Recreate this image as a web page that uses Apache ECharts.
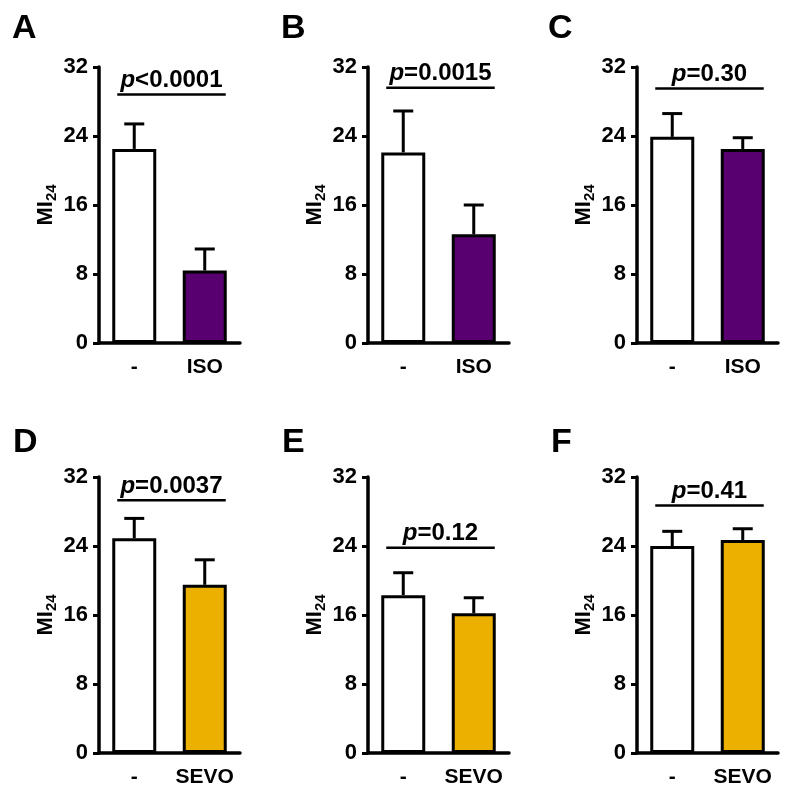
<!DOCTYPE html>
<html><head><meta charset="utf-8">
<script src="https://cdn.jsdelivr.net/npm/echarts@6/dist/echarts.min.js"></script>
<style>html,body{margin:0;padding:0;background:#fff}#c{width:800px;height:801px}</style>
</head><body><div id="c"></div>
<script>
// ---- data ----
const panelLetters = ['A', 'B', 'C', 'D', 'E', 'F'];
const categoriesISO = ['-', 'ISO'];
const categoriesSEVO = ['-', 'SEVO'];
const yTicks = [0, 8, 16, 24, 32];
const yAxisTitle = 'MI';
const yAxisSub = '24';

const meansA = [22.5, 8.4];  const sdA = [2.9, 2.5];  const pLineA = 28.8; const pTextA = '<0.0001';
const meansB = [22.1, 12.6]; const sdB = [4.8, 3.4];  const pLineB = 29.6; const pTextB = '=0.0015';
const meansC = [23.9, 22.5]; const sdC = [2.7, 1.3];  const pLineC = 29.5; const pTextC = '=0.30';
const meansD = [24.9, 19.5]; const sdD = [2.3, 2.9];  const pLineD = 29.3; const pTextD = '=0.0037';
const meansE = [18.3, 16.2]; const sdE = [2.6, 1.8];  const pLineE = 23.8; const pTextE = '=0.12';
const meansF = [24.0, 24.7]; const sdF = [1.7, 1.3];  const pLineF = 28.7; const pTextF = '=0.41';

// ---- layout / style ----
const FONT = "'Liberation Sans', Arial, sans-serif";
const PURPLE = '#58006f';
const YELLOW = '#ebb000';
const panels = [
  {letter: panelLetters[0], cats: categoriesISO,  means: meansA, sd: sdA, pY: pLineA, pT: pTextA, color: PURPLE, left: 99,  top: 67},
  {letter: panelLetters[1], cats: categoriesISO,  means: meansB, sd: sdB, pY: pLineB, pT: pTextB, color: PURPLE, left: 368, top: 67},
  {letter: panelLetters[2], cats: categoriesISO,  means: meansC, sd: sdC, pY: pLineC, pT: pTextC, color: PURPLE, left: 637, top: 67},
  {letter: panelLetters[3], cats: categoriesSEVO, means: meansD, sd: sdD, pY: pLineD, pT: pTextD, color: YELLOW, left: 99,  top: 477},
  {letter: panelLetters[4], cats: categoriesSEVO, means: meansE, sd: sdE, pY: pLineE, pT: pTextE, color: YELLOW, left: 368, top: 477},
  {letter: panelLetters[5], cats: categoriesSEVO, means: meansF, sd: sdF, pY: pLineF, pT: pTextF, color: YELLOW, left: 637, top: 477}
];
const letterPos = [[12, 12], [281, 12], [548, 12], [13, 426], [282, 426], [551, 426]];

const grid = [], xAxis = [], yAxis = [], series = [], graphic = [];
panels.forEach((p, i) => {
  grid.push({left: p.left, top: p.top, width: 141, height: 276, containLabel: false});
  xAxis.push({
    type: 'category', gridIndex: i, data: p.cats,
    axisLine: {lineStyle: {color: '#000', width: 3.5}},
    axisTick: {alignWithLabel: true, length: 8, lineStyle: {color: '#000', width: 3}},
    axisLabel: {color: '#000', fontFamily: FONT, fontWeight: 'bold', fontSize: 21, margin: 14, interval: 0, hideOverlap: false}
  });
  yAxis.push({
    type: 'value', gridIndex: i, min: yTicks[0], max: yTicks[yTicks.length - 1], interval: yTicks[1] - yTicks[0],
    splitLine: {show: false},
    axisLine: {show: true, lineStyle: {color: '#000', width: 3.5}},
    axisTick: {show: true, length: 6, lineStyle: {color: '#000', width: 3}},
    axisLabel: {color: '#000', fontFamily: FONT, fontWeight: 'bold', fontSize: 22, margin: 11},
    name: '{a|' + yAxisTitle + '}{b|' + yAxisSub + '}',
    nameLocation: 'middle', nameGap: 40, nameRotate: 90,
    nameTextStyle: {
      rich: {
        a: {fontFamily: FONT, fontWeight: 'bold', fontSize: 22, color: '#000'},
        b: {fontFamily: FONT, fontWeight: 'bold', fontSize: 15, color: '#000', padding: [11, 0, 0, 0]}
      }
    }
  });
  series.push({
    type: 'bar', xAxisIndex: i, yAxisIndex: i, barWidth: 44,
    data: p.means.map((v, k) => ({value: v, itemStyle: {color: k === 0 ? '#fff' : p.color, borderColor: '#000', borderWidth: 3}})),
    silent: true
  });
  series.push({
    type: 'custom', xAxisIndex: i, yAxisIndex: i, silent: true, z: 3,
    data: p.means.map((v, k) => [k, v, p.sd[k]]),
    renderItem: function (params, api) {
      const x = api.value(0), m = api.value(1), s = api.value(2);
      const p0 = api.coord([x, m]), p1 = api.coord([x, m + s]);
      return {type: 'group', children: [
        {type: 'line', shape: {x1: p0[0], y1: p0[1], x2: p1[0], y2: p1[1]}, style: {stroke: '#000', lineWidth: 3}},
        {type: 'line', shape: {x1: p1[0] - 10, y1: p1[1], x2: p1[0] + 10, y2: p1[1]}, style: {stroke: '#000', lineWidth: 3}}
      ]};
    }
  });
  series.push({
    type: 'custom', xAxisIndex: i, yAxisIndex: i, silent: true, z: 3,
    data: [[0, p.pY]],
    renderItem: (function (txt) { return function (params, api) {
      const y = api.value(1);
      const a = api.coord([0, y]), b = api.coord([1, y]);
      const x1 = a[0] - 17, x2 = b[0] + 21;
      return {type: 'group', children: [
        {type: 'line', shape: {x1: x1, y1: a[1], x2: x2, y2: a[1]}, style: {stroke: '#000', lineWidth: 2.5}},
        {type: 'text', x: (x1 + x2) / 2, y: a[1] - 2, style: {
          text: '{i|p}{n|' + txt + '}', align: 'center', verticalAlign: 'bottom',
          rich: {
            i: {fontFamily: FONT, fontStyle: 'italic', fontWeight: 'bold', fontSize: 24, fill: '#000'},
            n: {fontFamily: FONT, fontWeight: 'bold', fontSize: 24, fill: '#000'}
          }
        }}
      ]};
    }; })(p.pT)
  });
  graphic.push({type: 'text', x: letterPos[i][0], y: letterPos[i][1],
    style: {text: p.letter, fill: '#000', font: 'bold 34px ' + FONT, textAlign: 'left', textVerticalAlign: 'top'}});
});

const chart = echarts.init(document.getElementById('c'), null, {renderer: 'canvas'});
chart.setOption({backgroundColor: '#fff', animation: false, grid, xAxis, yAxis, series, graphic});
</script></body></html>
